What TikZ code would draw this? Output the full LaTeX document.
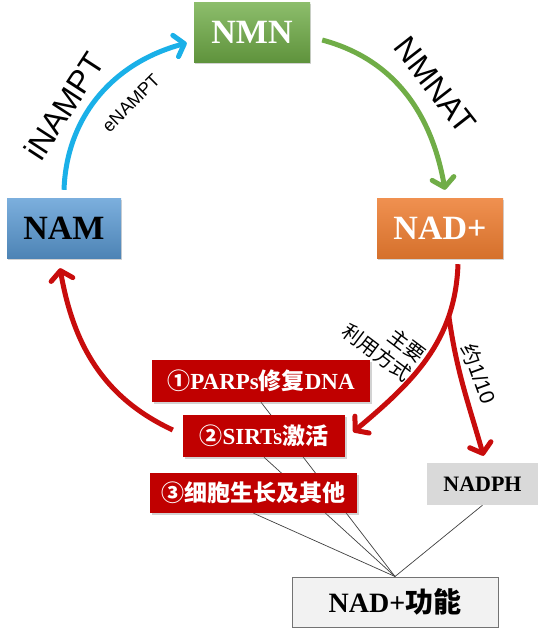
\documentclass[tikz,border=0pt]{standalone}
\usepackage{fontspec}
\setmainfont{Liberation Serif}
\setsansfont{Liberation Sans}
\newfontfamily\cjk{Noto Sans CJK SC}
\usetikzlibrary{arrows.meta, shadows, backgrounds}
\definecolor{nmngreen}{RGB}{112,173,71}
\definecolor{namblue}{RGB}{91,155,213}
\definecolor{nadorange}{RGB}{237,125,49}
\definecolor{darkred}{RGB}{192,0,0}
\definecolor{arrowblue}{RGB}{26,176,232}
\definecolor{arrowred}{RGB}{200,12,12}
\definecolor{nadphgray}{RGB}{217,217,217}

\begin{document}
\begin{tikzpicture}[x=1pt, y=-1pt,
    mainbox/.style={minimum height=60pt, inner sep=0pt,
        font=\bfseries\fontsize{34}{40}\selectfont,
        drop shadow={opacity=0.35, shadow xshift=1pt, shadow yshift=-2pt}},
    redbox/.style={fill=darkred, text=white, minimum height=42pt, inner sep=0pt,
        font=\bfseries\fontsize{23}{27}\selectfont,
        drop shadow={opacity=0.35, shadow xshift=1.5pt, shadow yshift=-2pt}},
    thickarrow/.style={line width=5pt, -{Straight Barb[length=9pt, width=22pt, round]}},
    enzyme/.style={font=\sffamily\fontsize{32}{36}\selectfont},
    link/.style={draw=black!75, line width=0.7pt}]

    \useasboundingbox (0,0) rectangle (539,633);

    % the cycle
    \node[mainbox, minimum width=116pt, top color=nmngreen!80!white, bottom color=nmngreen!85!black, text=white] (nmn) at (252,32) {NMN};
    \node[mainbox, minimum width=114pt, top color=namblue!80!white, bottom color=namblue!85!black] (nam) at (64,228) {NAM};
    \node[mainbox, minimum width=126pt, top color=nadorange!85!white, bottom color=nadorange!90!black, text=white] (nad) at (440,228) {NAD+};

    \draw[thickarrow, arrowblue] ([yshift=8pt]nam.north) to[out=88, in=195] ([xshift=-7pt, yshift=-11pt]nmn.west);
    \draw[thickarrow, nmngreen] ([xshift=12pt, yshift=-8pt]nmn.east) to[out=-15, in=100] ([xshift=5pt, yshift=8pt]nad.north);

    \node[enzyme, rotate=57] at (64,106) {iNAMPT};
    \node[font=\sffamily\fontsize{18}{21}\selectfont, rotate=45] at (131,103) {eNAMPT};
    \node[enzyme, rotate=-52] at (435,85) {NMNAT};

    % uses of NAD+
    \node[redbox, minimum width=218pt] (parps) at (261,381) {{\cjk ①}PARPs{\cjk 修复}DNA};
    \node[redbox, minimum width=162pt] (sirts) at (264,436) {{\cjk ②}SIRTs{\cjk 激活}};
    \node[redbox, minimum width=207pt, minimum height=40pt] (cell) at (253.5,493) {{\cjk ③细胞生长及其他}};
    \node[fill=nadphgray, minimum width=111pt, minimum height=42pt, inner sep=0pt,
        font=\bfseries\fontsize{22}{26}\selectfont] (nadph) at (482.5,484) {NADPH};
    \node[draw=black!55, line width=1pt, fill=black!5, minimum width=206pt, minimum height=50pt, inner sep=0pt,
        font=\bfseries\fontsize{28}{32}\selectfont] (func) at (395,602) {NAD+{\cjk 功能}};

    \draw[thickarrow, arrowred] ([xshift=18pt, yshift=-6pt]nad.south) to[out=-92, in=40]
        coordinate[pos=0.25] (split) ([xshift=8pt, yshift=4pt]sirts.east);
    \draw[thickarrow, arrowred] (split) to[out=-82, in=106] ([xshift=1pt, yshift=7pt]nadph.north);
    \draw[thickarrow, arrowred] ([xshift=-10pt, yshift=6pt]sirts.west) to[out=155, in=-80] ([xshift=-4pt, yshift=-10pt]nam.south);

    \node[font=\cjk\fontsize{20}{24}\selectfont, align=right, rotate=-37] at (384,343) {主要\\利用方式};
    \node[font=\sffamily\fontsize{21}{24}\selectfont, rotate=-70] at (479,374) {{\cjk 约}1/10};

    \begin{scope}[on background layer]
        \fill[white] (0,0) rectangle (539,633);
        \foreach \src in {parps, sirts, cell, nadph}
            \draw[link] (\src.south) -- (func.north);
    \end{scope}
\end{tikzpicture}
\end{document}
